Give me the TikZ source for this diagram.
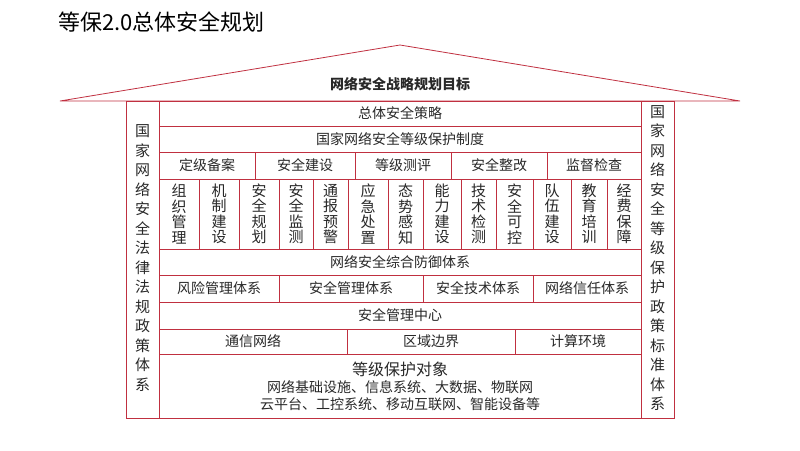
\documentclass[tikz,border=0pt]{standalone}
\usepackage{fontspec}
\setmainfont{Noto Sans CJK SC}
\usetikzlibrary{positioning,calc}
\definecolor{framered}{RGB}{192,48,64}
\definecolor{txtgray}{RGB}{40,40,40}
\tikzset{
  cell/.style={draw=framered,line width=0.8pt},
  lbl/.style={font=\fontsize{14}{16}\selectfont,text=txtgray,inner sep=0pt},
  vlbl/.style={font=\fontsize{15}{15.5}\selectfont,text=txtgray,inner sep=0pt,align=center},
  plbl/.style={font=\fontsize{15}{19.5}\selectfont,text=txtgray,inner sep=0pt,align=center}
}
\begin{document}
\begin{tikzpicture}[x=1pt,y=-1pt]
        \useasboundingbox (0,0) rectangle (800,450);
        \node[anchor=west,font=\fontsize{22}{24}\selectfont,inner sep=0pt] (title) at (58,22) {等保2.0总体安全规划};

        % roof
        \draw[cell] (60,101) -- (400,45) -- (740,101) -- cycle;
        \node[lbl,font=\bfseries\fontsize{14}{16}\selectfont] (goal) at (400,84) {网络安全战略规划目标};

        % pillars
        \draw[cell] (126,101) rectangle (159,418);
        \draw[cell] (641,101) rectangle (674,418);
        \node[plbl] (lawpillar) at (142.5,258) {国\\家\\网\\络\\安\\全\\法\\律\\法\\规\\政\\策\\体\\系};
        \node[plbl] (stdpillar) at (657.5,258) {国\\家\\网\\络\\安\\全\\等\\级\\保\\护\\政\\策\\标\\准\\体\\系};

        % full width rows
        \draw[cell] (159,101) rectangle (641,126) node[midway,lbl] (strategy) {总体安全策略};
        \draw[cell] (159,126) rectangle (641,152) node[midway,lbl] (system) {国家网络安全等级保护制度};

        % five stages
        \foreach \xa/\xb/\txt [count=\i] in {159/255/定级备案,255/355/安全建设,355/451/等级测评,451/547/安全整改,547/641/监督检查}
          \draw[cell] (\xa,152) rectangle (\xb,179) node[midway,lbl] (stage\i) {\txt};

        % vertical items
        \foreach \xa/\xb/\txt [count=\i] in {159/199/{组\\织\\管\\理},199/239/{机\\制\\建\\设},239/279/{安\\全\\规\\划},279/313/{安\\全\\监\\测},313/348/{通\\报\\预\\警},348/388/{应\\急\\处\\置},388/423/{态\\势\\感\\知},423/461/{能\\力\\建\\设},461/496/{技\\术\\检\\测},496/533/{安\\全\\可\\控},533/571/{队\\伍\\建\\设},571/607/{教\\育\\培\\训},607/641/{经\\费\\保\\障}}
          \draw[cell] (\xa,179) rectangle (\xb,249) node[midway,vlbl] (item\i) {\txt};

        \draw[cell] (159,249) rectangle (641,275) node[midway,lbl] (defense) {网络安全综合防御体系};

        \foreach \xa/\xb/\txt [count=\i] in {159/279/风险管理体系,279/423/安全管理体系,423/533/安全技术体系,533/641/网络信任体系}
          \draw[cell] (\xa,275) rectangle (\xb,302) node[midway,lbl] (sys\i) {\txt};

        \draw[cell] (159,302) rectangle (641,329) node[midway,lbl] (center) {安全管理中心};

        \foreach \xa/\xb/\txt [count=\i] in {159/347/通信网络,347/515/区域边界,515/641/计算环境}
          \draw[cell] (\xa,329) rectangle (\xb,354) node[midway,lbl] (area\i) {\txt};

        \draw[cell] (159,354) rectangle (641,418);
        \node[lbl,font=\fontsize{16}{18}\selectfont] (object) at (400,369) {等级保护对象};
        \node[lbl,below=4pt of object] (objects1) {网络基础设施、信息系统、大数据、物联网};
        \node[lbl,below=3pt of objects1] (objects2) {云平台、工控系统、移动互联网、智能设备等};
\end{tikzpicture}
\end{document}
